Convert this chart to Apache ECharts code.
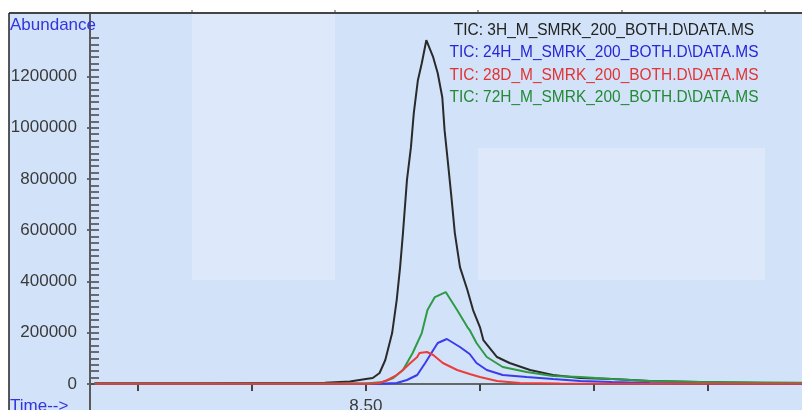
<!DOCTYPE html>
<html>
<head>
<meta charset="utf-8">
<script src="https://cdn.jsdelivr.net/npm/echarts@6/dist/echarts.min.js"></script>
<style>
  html, body { margin: 0; padding: 0; background: #fff; }
  #chart { width: 802px; height: 410px; }
</style>
</head>
<body>
<div id="chart"></div>
<script>
// 数据 (时间 min, 丰度)
var names = [
  "TIC: 3H_M_SMRK_200_BOTH.D\\DATA.MS",
  "TIC: 24H_M_SMRK_200_BOTH.D\\DATA.MS",
  "TIC: 28D_M_SMRK_200_BOTH.D\\DATA.MS",
  "TIC: 72H_M_SMRK_200_BOTH.D\\DATA.MS"
]
var colors = ["#2a2a2a", "#3b3bec", "#ec3c3c", "#2f9a45"]
var textColors = ["#222222", "#2626d6", "#e33232", "#228a34"]

var tic3h = [
  [8.262, 3000], [8.354, 3000], [8.464, 5000], [8.486, 10000], [8.500, 19500],
  [8.506, 23400], [8.512, 42900], [8.517, 93600], [8.523, 198800], [8.527, 327500],
  [8.530, 456200], [8.5325, 588700], [8.536, 795400], [8.5395, 924100], [8.542, 1056600],
  [8.5456, 1185300], [8.549, 1251600], [8.553, 1341300], [8.559, 1275000], [8.563, 1212600],
  [8.567, 1119000], [8.569, 990300], [8.572, 861700], [8.575, 729100], [8.578, 588700],
  [8.5825, 456200], [8.589, 366500], [8.594, 288500], [8.600, 222200], [8.603, 171600],
  [8.615, 105300], [8.626, 81900], [8.644, 54600], [8.664, 35100], [8.688, 23400],
  [8.716, 19500], [8.749, 11700], [8.793, 7800], [8.848, 3900], [8.8825, 3000]
]
var tic24h = [
  [8.262, 1000], [8.400, 1000], [8.512, 1000], [8.527, 3900], [8.536, 15600],
  [8.545, 35100], [8.552, 81900], [8.558, 124800], [8.563, 159900], [8.571, 175500],
  [8.5825, 144300], [8.591, 117000], [8.597, 81900], [8.606, 54600], [8.620, 35100],
  [8.641, 27300], [8.664, 19500], [8.688, 11700], [8.716, 7800], [8.749, 3900],
  [8.793, 2000], [8.8825, 1000]
]
var tic28d = [
  [8.262, 500], [8.400, 500], [8.5035, 1000], [8.512, 3900], [8.519, 15600],
  [8.527, 35100], [8.5325, 54600], [8.539, 81900], [8.545, 105300], [8.547, 120900],
  [8.5535, 124800], [8.559, 113100], [8.5675, 81900], [8.580, 54600], [8.591, 39000],
  [8.600, 27300], [8.615, 11700], [8.635, 3900], [8.670, 1500], [8.8825, 500]
]
var tic72h = [
  [8.262, 2000], [8.400, 2000], [8.500, 1500], [8.515, 7800], [8.524, 23400],
  [8.5325, 54600], [8.541, 120900], [8.549, 198800], [8.554, 288500], [8.5605, 339200],
  [8.570, 358700], [8.580, 288500], [8.589, 222200], [8.591, 210500], [8.597, 159900],
  [8.606, 105300], [8.620, 66300], [8.641, 46800], [8.664, 31200], [8.688, 27300],
  [8.716, 19500], [8.749, 11700], [8.793, 7800], [8.8825, 5000]
]
var seriesData = [tic3h, tic24h, tic28d, tic72h]

var yLabels = [0, 200000, 400000, 600000, 800000, 1000000, 1200000]
var xTicks = [8.3, 8.4, 8.5, 8.6, 8.7, 8.8]
var xLabels = [8.5]

var Echarts = echarts.init(document.getElementById("chart"))

var titleFont = { color: "#3434dc", fontSize: 17, fontWeight: "normal", fontFamily: "Liberation Sans" }
var titles = [
  { text: "Abundance", left: 5, top: 12, textStyle: titleFont },
  { text: "Time-->", left: 5, top: 393, textStyle: titleFont }
]

//背景和边框
var graphics = [
  { type: "rect", z: -10, shape: { x: 9, y: 13, width: 793, height: 397 }, style: { fill: "#d2e3f9" } },
  { type: "rect", z: -9, shape: { x: 192, y: 14, width: 143, height: 266 }, style: { fill: "#dde9fb" } },
  { type: "rect", z: -9, shape: { x: 478, y: 148, width: 287, height: 132 }, style: { fill: "#dde9fb" } },
  { type: "line", z: 5, shape: { x1: 9, y1: 13, x2: 802, y2: 13 }, style: { stroke: "#444", lineWidth: 2 } },
  { type: "line", z: 5, shape: { x1: 9, y1: 13, x2: 9, y2: 410 }, style: { stroke: "#222", lineWidth: 1.5 } },
  { type: "line", z: 5, shape: { x1: 90, y1: 14, x2: 90, y2: 410 }, style: { stroke: "#5a5a5a", lineWidth: 2 } }
]
;[192, 335, 478, 622, 765].forEach(function (x) {
  graphics.push({ type: "line", z: 5, shape: { x1: x, y1: 10, x2: x, y2: 13 }, style: { stroke: "#444", lineWidth: 1 } })
})
//图例文字 (居中, 窄字体)
var legendY = [30, 52, 75, 97]
names.forEach(function (n, i) {
  graphics.push({
    type: "text", z: 6, x: 604, y: legendY[i], scaleX: 0.91,
    style: { text: n, fill: textColors[i], align: "center", verticalAlign: "middle",
      font: "17px 'Liberation Sans'" }
  })
})

var labelFont = { fontFamily: "Liberation Sans", fontSize: 17, color: "#3a3a3a" }

Echarts.setOption({
  animation: false,
  title: titles,
  grid: { left: 90, right: 0, top: 38, bottom: 26, outerBoundsMode: "none" },
  graphic: graphics,
  xAxis: {
    type: "value",
    min: 8.258,
    max: 8.8825,
    splitLine: { show: false },
    axisLine: { onZero: false, lineStyle: { color: "#666", width: 2 } },
    axisTick: { customValues: xTicks, length: 7, lineStyle: { color: "#444", width: 2 } },
    axisLabel: Object.assign({ customValues: xLabels, margin: 14,
      formatter: function (v) { return v.toFixed(2) } }, labelFont)
  },
  yAxis: [
    {
      type: "value", position: "left", min: 0, max: 1350000,
      splitLine: { show: false },
      axisLine: { show: true, lineStyle: { color: "#5a5a5a", width: 2 } },
      axisTick: { customValues: yLabels, length: 3, lineStyle: { color: "#444", width: 1.5 } },
      axisLabel: Object.assign({ customValues: yLabels, margin: 13,
        formatter: function (v) { return String(v) } }, labelFont)
    },
    {
      //小刻度
      type: "value", position: "left", min: 0, max: 1350000, interval: 25000,
      splitLine: { show: false },
      axisLine: { show: false },
      axisTick: { inside: true, length: 9, lineStyle: { color: "#444", width: 1.5 } },
      axisLabel: { show: false }
    }
  ],
  series: seriesData.map(function (d, i) {
    return {
      type: "line",
      name: names[i],
      data: d,
      yAxisIndex: 0,
      showSymbol: false,
      lineStyle: { color: colors[i], width: 2 },
      z: i === 2 ? 4 : 3
    }
  })
})
</script>
</body>
</html>
